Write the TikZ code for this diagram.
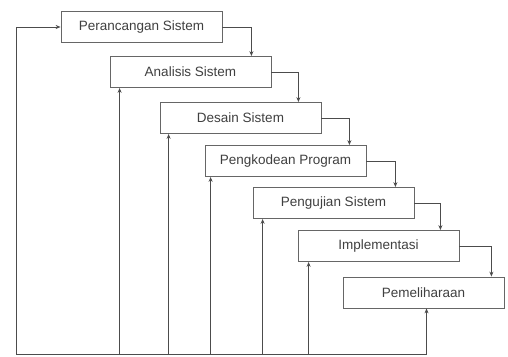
\documentclass[tikz,border=0pt]{standalone}
\usepackage{fontspec}
\setmainfont{Liberation Sans}
\usetikzlibrary{arrows.meta}
\begin{document}
\begin{tikzpicture}[x=1pt,y=-1pt,
  stage/.style={draw=black!60, line width=0.8pt, fill=white, minimum width=161pt, minimum height=31pt, inner sep=0pt, text=black!75, font=\fontsize{13.5}{15}\selectfont},
  link/.style={draw=black!70, line width=0.9pt},
  arr/.style={link, -{Stealth[length=5pt,width=4pt]}}]
\useasboundingbox (0,0) rectangle (508,356);
\node[stage] (b1) at (141.5,27) {Perancangan Sistem};
\node[stage] (b2) at (190.5,72) {Analisis Sistem};
\node[stage] (b3) at (240.5,118) {Desain Sistem};
\node[stage] (b4) at (285.5,161) {Pengkodean Program};
\node[stage] (b5) at (333.5,203) {Pengujian Sistem};
\node[stage] (b6) at (378.5,246) {Implementasi};
\node[stage] (b7) at (423.5,292.5) {Pemeliharaan};
% forward arrows
\coordinate (d2) at ([xshift=-20pt]b2.north east);
\coordinate (d3) at ([xshift=-23pt]b3.north east);
\coordinate (d4) at ([xshift=-17pt]b4.north east);
\coordinate (d5) at ([xshift=-19pt]b5.north east);
\coordinate (d6) at ([xshift=-19pt]b6.north east);
\coordinate (d7) at ([xshift=-13pt]b7.north east);
\draw[arr] (b1.east) -| (d2);
\draw[arr] (b2.east) -| (d3);
\draw[arr] (b3.east) -| (d4);
\draw[arr] (b4.east) -| (d5);
\draw[arr] (b5.east) -| (d6);
\draw[arr] (b6.east) -| (d7);
% feedback
\coordinate (base) at (16,354);
\coordinate (t2) at ([xshift=10pt]b2.south west);
\coordinate (t3) at ([xshift=9pt]b3.south west);
\coordinate (t4) at ([xshift=6pt]b4.south west);
\coordinate (t5) at ([xshift=10pt]b5.south west);
\coordinate (t6) at ([xshift=11pt]b6.south west);
\coordinate (t7) at ([xshift=3pt]b7.south);
\draw[link] (t7 |- base) -- (base);
\draw[arr] (base) |- (b1.west);
\draw[arr] (t2 |- base) -- (t2);
\draw[arr] (t3 |- base) -- (t3);
\draw[arr] (t4 |- base) -- (t4);
\draw[arr] (t5 |- base) -- (t5);
\draw[arr] (t6 |- base) -- (t6);
\draw[arr] (t7 |- base) -- (t7);
\end{tikzpicture}
\end{document}
